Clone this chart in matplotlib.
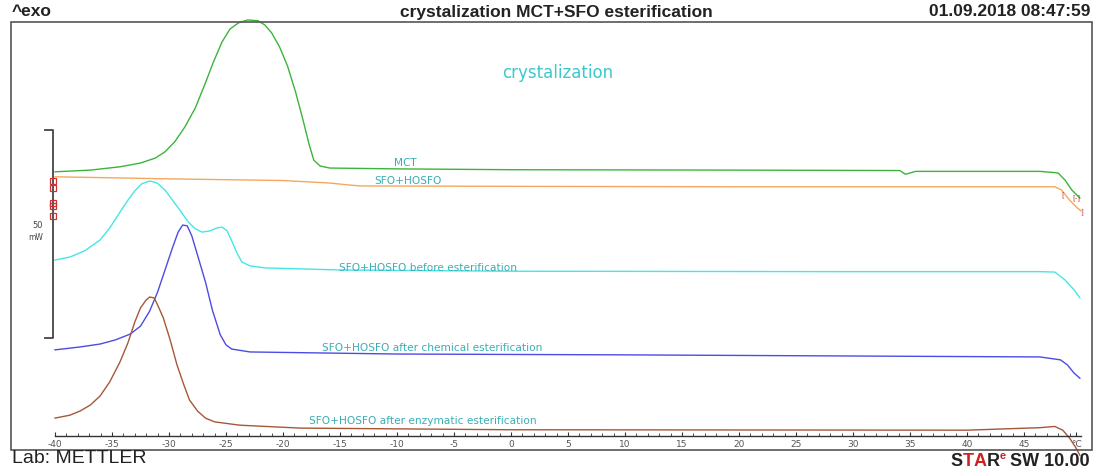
import matplotlib
matplotlib.use("Agg")
import matplotlib.pyplot as plt
from matplotlib.patches import Rectangle

# temperature (°C) and heat flow (mW, curves offset as in the original plot)
mct_t = [-40, -36.9, -34.3, -32.5, -31.2, -30.35, -29.5, -28.6, -27.7, -26.8, -26.1,
         -25.35, -24.65, -23.9, -23.1, -22.2, -21.6, -21.0, -20.3, -19.6, -18.9,
         -18.25, -17.7, -17.3, -16.75, -15.9, -10, 0, 20, 34.1, 34.6, 35.5, 46.4,
         47.7, 48.0, 48.6, 49.2, 49.9]
mct_q = [63.5, 63.9, 64.7, 65.6, 66.8, 68.3, 70.7, 74.3, 78.8, 84.9, 89.9,
         94.7, 97.8, 99.3, 100.0, 99.8, 98.8, 96.9, 93.5, 88.9, 82.7,
         76.0, 70.0, 66.3, 64.9, 64.4, 64.2, 64.0, 63.9, 63.8, 62.9, 63.6, 63.6,
         63.3, 63.2, 61.5, 59.1, 57.2]

sfo_t = [-40, -30, -20, -15.9, -14.5, -13.25, 0, 20, 40, 47.7, 48.3, 49.0, 49.6, 50.0]
sfo_q = [62.3, 61.8, 61.4, 60.8, 60.4, 60.1, 60.0, 59.9, 59.9, 59.9, 59.1, 56.7, 55.0, 54.1]

before_t = [-40, -38.7, -37.4, -36.05, -35.2, -34.3, -33.6, -33.0, -32.4, -31.7, -31.05,
            -30.35, -29.7, -29.0, -28.3, -27.7, -27.1, -26.4, -25.8, -25.35, -24.9,
            -24.5, -24.0, -23.6, -22.9, -21.6, -15, 0, 30, 46.4, 47.7, 48.6, 49.4, 49.9]
before_q = [42.3, 43.0, 44.5, 47.1, 50.0, 53.8, 56.7, 58.9, 60.6, 61.3, 60.8,
            59.1, 56.7, 54.1, 51.4, 49.8, 49.0, 49.3, 50.0, 50.2, 49.3,
            46.9, 43.75, 41.8, 40.9, 40.4, 39.9, 39.6, 39.5, 39.5, 39.4, 37.5, 35.1, 33.2]

chem_t = [-40, -37.8, -36.05, -34.7, -33.4, -32.5, -31.7, -31.0, -30.35, -29.7, -29.2,
          -28.8, -28.4, -28.0, -27.5, -26.8, -26.2, -25.5, -25.0, -24.5, -22.9, -10,
          10, 46.4, 48.2, 48.8, 49.4, 49.9]
chem_q = [20.7, 21.4, 22.1, 23.1, 24.5, 26.4, 30.0, 34.6, 39.9, 45.2, 49.0,
          50.7, 50.5, 48.1, 43.5, 37.0, 30.3, 24.3, 21.9, 20.9, 20.2, 19.7,
          19.5, 19.0, 18.3, 17.1, 15.1, 13.9]

enz_t = [-40, -38.7, -37.8, -36.9, -36.05, -35.2, -34.3, -33.6, -33.0, -32.5, -32.0,
         -31.7, -31.3, -31.0, -30.5, -29.9, -29.3, -28.7, -28.2, -27.5, -26.8, -26.0,
         -23.8, -18.5, 0, 40, 46.4, 47.7, 48.4, 49.0, 49.5, 49.9]
enz_q = [4.3, 5.0, 6.0, 7.45, 9.6, 13.0, 17.8, 22.4, 27.4, 30.8, 32.7,
         33.4, 33.2, 31.5, 28.4, 23.1, 17.1, 12.3, 8.65, 6.0, 4.3, 3.4,
         2.6, 1.9, 1.5, 1.4, 2.0, 2.3, 1.4, -0.5, -2.6, -4.6]

curve_names = ["MCT", "SFO+HOSFO", "SFO+HOSFO before esterification",
               "SFO+HOSFO after chemical esterification",
               "SFO+HOSFO after enzymatic esterification"]
curve_colors = ["#3cb43c", "#f5a85c", "#45e6e6", "#4b4be6", "#a5573a"]
label_pos = [(-9.3, 65.6), (-9.0, 61.3), (-7.3, 40.4), (-6.9, 21.2), (-7.7, 3.6)]
start_marks = [61.3, 59.6, 56.0, 55.3, 52.9]

ticks = list(range(-40, 50, 5))
tick_labels = [str(t) for t in ticks]

fig = plt.figure(figsize=(10.96, 4.69), dpi=100)
ax = fig.add_axes([55 / 1096, 33 / 469, 1026 / 1096, 414 / 469])
ax.set_xlim(-40, 50)
ax.set_ylim(0, 99.5)

curves = [(mct_t, mct_q), (sfo_t, sfo_q), (before_t, before_q),
          (chem_t, chem_q), (enz_t, enz_q)]
for (t, q), c in zip(curves, curve_colors):
    ax.plot(t, q, color=c, lw=1.0, clip_on=False, solid_joinstyle="round")

for name, (x, y) in zip(curve_names, label_pos):
    ax.text(x, y, name, color="#3aaeb4", fontsize=7.6, ha="center", va="center")

ax.text(4.1, 87.3, "crystalization", color="#3cc8cc", fontsize=12,
        ha="center", va="center")

# scale bar 50 mW
ax.plot([-40.9, -40.2, -40.2, -40.9], [73.6, 73.6, 23.6, 23.6],
        color="#444444", lw=1.3, clip_on=False)
ax.text(-41.5, 50.5, "50", fontsize=6, color="#444444", ha="center", va="center")
ax.text(-41.7, 47.8, "mW", fontsize=5.5, color="#444444", ha="center", va="center")
ax.plot([-40.2] * len(start_marks), start_marks, ls="none", marker="s", ms=4,
        mfc="none", mec="#d03030", mew=0.9, clip_on=False)

# evaluation limits on the right
ax.text(48.4, 58.0, "[", color="#d03030", fontsize=5, ha="center", va="center")
ax.text(49.6, 57.3, "[-]", color="#d03030", fontsize=5, ha="center", va="center")
ax.text(50.1, 54.0, "]", color="#d03030", fontsize=5, ha="center", va="center")

for s in ["left", "right", "top"]:
    ax.spines[s].set_visible(False)
ax.spines["bottom"].set_color("#333333")
ax.spines["bottom"].set_linewidth(1.0)
ax.set_yticks([])
ax.set_xticks(ticks + [49.6])
ax.set_xticklabels(tick_labels + ["°C"])
ax.set_xticks(range(-40, 50), minor=True)
ax.tick_params(axis="x", which="major", direction="in", length=3, width=0.8,
               color="#333333", labelsize=6.5, labelcolor="#555555", pad=3)
ax.tick_params(axis="x", which="minor", direction="in", length=2, width=0.6,
               color="#333333")
ax.patch.set_visible(False)

fig.add_artist(Rectangle((11 / 1096, 19 / 469), 1081 / 1096, 428 / 469,
                         transform=fig.transFigure, fill=False,
                         ec="#555555", lw=1.2))

hdr = dict(fontsize=12.5, fontweight="bold", family="Liberation Sans", color="#222222")
fig.text(12 / 1096, 1 - 12 / 469, "^exo", ha="left", va="center", **hdr)
fig.text(556 / 1096, 1 - 12 / 469, "crystalization MCT+SFO esterification",
         ha="center", va="center", **hdr)
fig.text(1090 / 1096, 1 - 12 / 469, "01.09.2018 08:47:59", ha="right",
         va="center", **hdr)

fig.text(12 / 1096, 2 / 469, "Lab: METTLER", ha="left", va="bottom",
         fontsize=14, family="Liberation Sans", color="#222222")
star = fig.text(1090 / 1096, 1 - 461 / 469, "SW 10.00", ha="right", va="center",
                fontsize=13, fontweight="bold", family="Liberation Sans",
                color="#222222")
fig.canvas.draw()
bb = star.get_window_extent()
x0 = bb.x0 / 1096 - 0.004
parts = [("e", "#d02020", 8, 1 - 456 / 469), ("R", "#222222", 13, 1 - 461 / 469),
         ("A", "#d02020", 13, 1 - 461 / 469), ("T", "#d02020", 13, 1 - 461 / 469),
         ("S", "#222222", 13, 1 - 461 / 469)]
for ch, col, fs, yy in parts:
    t = fig.text(x0, yy, ch, ha="right", va="center", fontsize=fs,
                 fontweight="bold", family="Liberation Sans", color=col)
    fig.canvas.draw()
    x0 = t.get_window_extent().x0 / 1096

fig.savefig("out.png", dpi=100)
